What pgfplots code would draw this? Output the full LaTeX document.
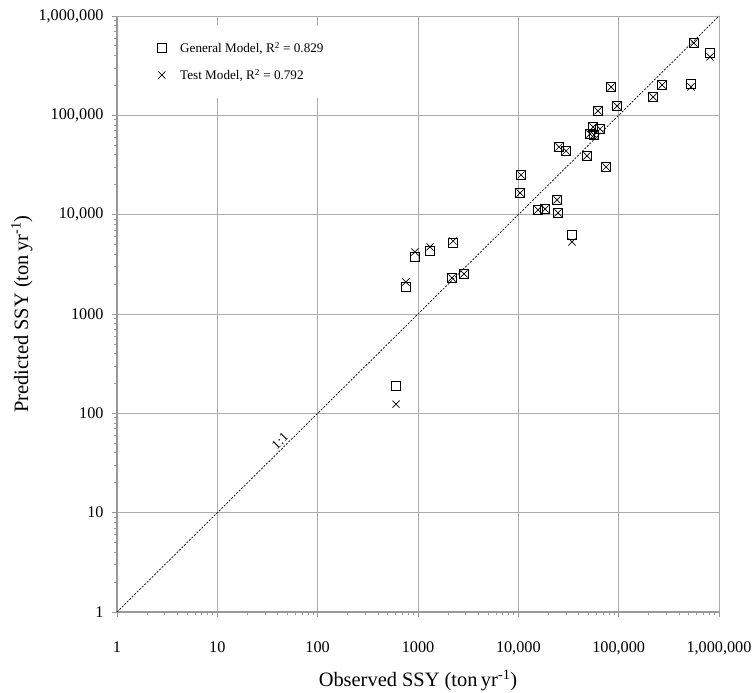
\documentclass[border=0pt]{standalone}
\usepackage{pgfplots}
\pgfplotsset{compat=1.18}
\usepackage{fontspec}
\setmainfont{Liberation Serif}
\begin{document}
\begin{tikzpicture}
\path[use as bounding box] (-117bp,-81bp) rectangle (638bp,612bp);
\begin{axis}[
  scale only axis, width=602bp, height=596bp,
  xmode=log, ymode=log,
  xmin=1, xmax=1e6, ymin=1, ymax=1e6,
  axis lines=left, axis line style={-, draw=gray!80, line width=1.6bp},
  grid=major, major grid style={gray!65, line width=0.9bp},
  xtick={1,10,100,1000,10000,100000,1000000},
  ytick={1,10,100,1000,10000,100000,1000000},
  xticklabels={1,10,100,1000,{10,000},{100,000},{1,000,000}},
  yticklabels={1,10,100,1000,{10,000},{100,000},{1,000,000}},
  minor tick num=0,
  tick align=outside, major tick length=5bp, tick style={gray!80, line width=0.8bp},
  ticklabel style={font=\fontsize{16.3}{18}\selectfont},
  xticklabel style={yshift=-21bp},
  yticklabel style={xshift=-5bp},
  xlabel={Observed SSY (ton\,yr\textsuperscript{-1})},
  ylabel={Predicted SSY (ton\,yr\textsuperscript{-1})},
  label style={font=\fontsize{20.5}{22}\selectfont},
  x label style={at={(axis description cs:0.5,-0.115)},anchor=center},
  y label style={at={(axis description cs:-0.158,0.5)},anchor=center},
  legend style={at={(rel axis cs:0.022,0.985)}, anchor=north west, draw=none, fill=white,
    font=\fontsize{13.2}{15}\selectfont, inner xsep=25bp, inner ysep=15bp, row sep=11bp,
    cells={anchor=west}},
  legend cell align=left,
  legend image code/.code={\path (-6bp,0bp) (16bp,0bp); \draw[#1] plot coordinates {(0bp,0bp)};},
  clip=false,
]
\addplot[only marks, mark=square, mark size=4.5bp, black, line width=0.8bp] table {
x y
604 188
759 1871
933 3750
1318 4310
2233 5190
2183 2305
2875 2530
10640 25100
10400 16520
15700 11150
18450 11400
24270 14060
24850 10400
34280 6240
25430 48000
29860 43750
48350 38980
74800 30200
55500 76300
65200 72900
51800 64900
56800 63400
62300 110700
96300 124200
83900 192800
270500 202000
220000 153000
526000 207000
563000 535000
813000 424000
};
\addlegendentry{General Model, R\textsuperscript{2} = 0.829}
\addplot[only marks, mark=x, mark size=5bp, black, line width=0.7bp] table {
x y
604 124
759 2100
933 4210
1318 4730
2233 5430
2183 2305
2875 2530
10640 25100
10400 16520
15700 11150
18450 11400
24270 14060
24850 10400
34280 5310
25430 48000
29860 43750
48350 38980
74800 30200
55500 76300
65200 72900
51800 64900
56800 63400
62300 110700
96300 124200
83900 192800
270500 202000
220000 153000
526000 193000
563000 535000
813000 387000
};
\addlegendentry{Test Model, R\textsuperscript{2} = 0.792}
\addplot[black, line width=0.7bp, dash pattern=on 2bp off 1.5bp, forget plot] coordinates {(1,1) (1000000,1000000)};
\node[rotate=44.7, anchor=south, font=\fontsize{13.5}{16}\selectfont, inner sep=2bp] at (axis cs:47,47) {1:1};
\end{axis}
\end{tikzpicture}
\end{document}
